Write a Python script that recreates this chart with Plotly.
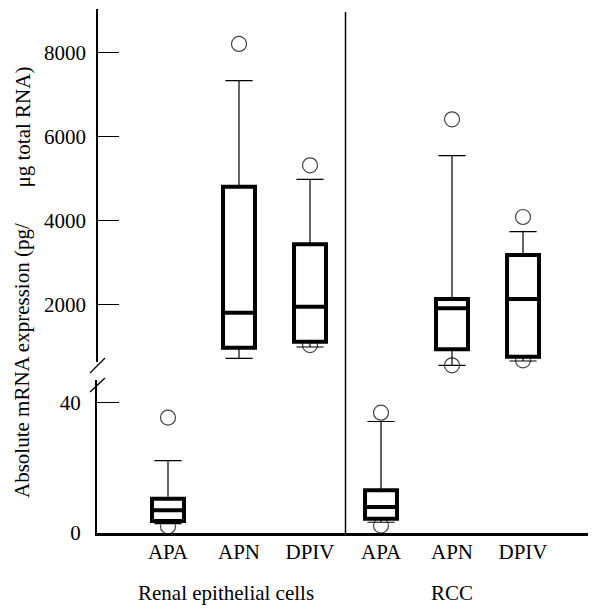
import plotly.graph_objects as go

# ---- data ----
categories = ["APA", "APN", "DPIV", "APA", "APN", "DPIV"]
groups = ["Renal epithelial cells", "RCC"]
group_centers = [0.81, 4.0]

# lower panel (0-40 scale): APA boxes
low_idx = [0, 3]
low_lowerfence = [2.9, 3.3]
low_q1 = [3.7, 4.4]
low_median = [7.0, 8.0]
low_q3 = [10.5, 13.1]
low_upperfence = [22.2, 34.2]
low_out_x = [0, 0, 3, 3]
low_out_y = [35.4, 2.0, 36.9, 2.3]

# upper panel (pg scale): APN and DPIV boxes
up_idx = [1, 2, 4, 5]
up_lowerfence = [714, 983, 548, 650]
up_q1 = [967, 1110, 929, 752]
up_median = [1800, 1943, 1905, 2126]
up_q3 = [4800, 3429, 2126, 3174]
up_upperfence = [7324, 4976, 5538, 3729]
up_out_x = [1, 2, 2, 4, 4, 5, 5]
up_out_y = [8200, 5310, 1030, 6405, 548, 4079, 665]

up_ticks = [2000, 4000, 6000, 8000]
low_ticks = [0, 40]

FONT = "Liberation Serif, Times New Roman, Times, serif"
FS = 21
XR = [-1, 6.028]
UP_RANGE = [483.4, 9031]
LOW_RANGE = [0, 46.93]
UP_DOM = [0.3149, 1]
LOW_DOM = [0, 0.29198]

fig = go.Figure()

out_marker = dict(symbol="circle-open", size=15, color="#444444", line=dict(width=1.2))

# outliers on base subplots (below boxes)
fig.add_trace(go.Scatter(x=up_out_x, y=up_out_y, mode="markers", marker=out_marker,
                         xaxis="x", yaxis="y", cliponaxis=False, showlegend=False, hoverinfo="skip"))
fig.add_trace(go.Scatter(x=low_out_x, y=low_out_y, mode="markers", marker=out_marker,
                         xaxis="x2", yaxis="y2", cliponaxis=False, showlegend=False, hoverinfo="skip"))

def add_boxes(idx, lf, q1, med, q3, uf, xa, ya):
    # thin whiskers with caps
    fig.add_trace(go.Box(x=idx, lowerfence=lf, q1=q1, median=med, q3=q3, upperfence=uf,
                         width=0.45, whiskerwidth=0.85, line=dict(color="black", width=1.2),
                         fillcolor="white", boxpoints=False, showlegend=False,
                         xaxis=xa, yaxis=ya, hoverinfo="skip"))
    # thick box and median
    fig.add_trace(go.Box(x=idx, lowerfence=q1, q1=q1, median=med, q3=q3, upperfence=q3,
                         width=0.45, whiskerwidth=0, line=dict(color="black", width=4),
                         fillcolor="white", boxpoints=False, showlegend=False,
                         xaxis=xa, yaxis=ya, hoverinfo="skip"))

add_boxes(up_idx, up_lowerfence, up_q1, up_median, up_q3, up_upperfence, "x3", "y3")
add_boxes(low_idx, low_lowerfence, low_q1, low_median, low_q3, low_upperfence, "x4", "y4")

hidden = dict(visible=False, showgrid=False, zeroline=False, automargin=False)

# the page body adds an 8 px offset, so the figure is 8 px smaller and margins shifted
fig.update_layout(
    width=588, height=604,
    margin=dict(l=89, r=0, t=1, b=79, autoexpand=False),
    paper_bgcolor="white", plot_bgcolor="rgba(0,0,0,0)",
    font=dict(family=FONT, size=FS, color="black"),
    showlegend=False,
    xaxis=dict(domain=[0, 1], range=XR, anchor="y", **hidden),
    yaxis=dict(domain=UP_DOM, range=UP_RANGE, anchor="x", showgrid=False, zeroline=False,
               automargin=False,
               showline=False, ticks="inside", ticklen=22, tickwidth=1.2, tickcolor="black",
               tickvals=up_ticks, ticktext=[str(v) for v in up_ticks],
               tickfont=dict(family=FONT, size=FS), ticklabelstandoff=10),
    xaxis2=dict(domain=[0, 1], range=XR, anchor="y2", showgrid=False, zeroline=False,
                automargin=False,
                showline=True, linecolor="black", linewidth=2.5, ticks="",
                tickvals=list(range(len(categories))), ticktext=categories,
                tickfont=dict(family=FONT, size=FS), ticklabelstandoff=-2),
    yaxis2=dict(domain=LOW_DOM, range=LOW_RANGE, anchor="x2", showgrid=False, zeroline=False,
                automargin=False,
                showline=True, linecolor="black", linewidth=2, ticks="inside", ticklen=22,
                tickwidth=1.2, tickcolor="black", tickvals=low_ticks,
                ticktext=[str(v) for v in low_ticks],
                tickfont=dict(family=FONT, size=FS), ticklabelstandoff=10),
    xaxis3=dict(overlaying="x", range=XR, anchor="y3", **hidden),
    yaxis3=dict(overlaying="y", range=UP_RANGE, anchor="x3", **hidden),
    xaxis4=dict(overlaying="x2", range=XR, anchor="y4", **hidden),
    yaxis4=dict(overlaying="y2", range=LOW_RANGE, anchor="x4", **hidden),
)

# upper y axis line (stops at the break) and break marks
fig.add_shape(type="line", xref="paper", yref="paper", x0=0, x1=0, y0=(533 - 362) / 524, y1=1,
              line=dict(color="black", width=2))
for y0, y1 in [((533 - 373) / 524, (533 - 358) / 524), ((533 - 392) / 524, (533 - 378) / 524)]:
    fig.add_shape(type="line", xref="paper", yref="paper", x0=-7 / 499, x1=8 / 499, y0=y0, y1=y1,
                  line=dict(color="black", width=1.3))

# divider between groups
fig.add_shape(type="line", xref="x2", yref="paper", x0=2.5, x1=2.5, y0=0, y1=(533 - 12) / 524,
              line=dict(color="black", width=1.5))

# group labels
for g, c in zip(groups, group_centers):
    fig.add_annotation(text=g, x=c, xref="x2", y=(533 - 593) / 524, yref="paper",
                       showarrow=False, xanchor="center", yanchor="middle",
                       font=dict(family=FONT, size=FS))

# y-axis title (two parts, as in the reference)
TX = (22 - 97) / 499
fig.add_annotation(text="Absolute mRNA expression (pg/", x=TX, xref="paper",
                   y=(533 - 361) / 524, yref="paper", textangle=-90, showarrow=False,
                   xanchor="center", yanchor="middle", font=dict(family=FONT, size=FS))
fig.add_annotation(text="μg total RNA)", x=TX, xref="paper",
                   y=(533 - 127.5) / 524, yref="paper", textangle=-90, showarrow=False,
                   xanchor="center", yanchor="middle", font=dict(family=FONT, size=FS))

fig.write_html("out.html")
